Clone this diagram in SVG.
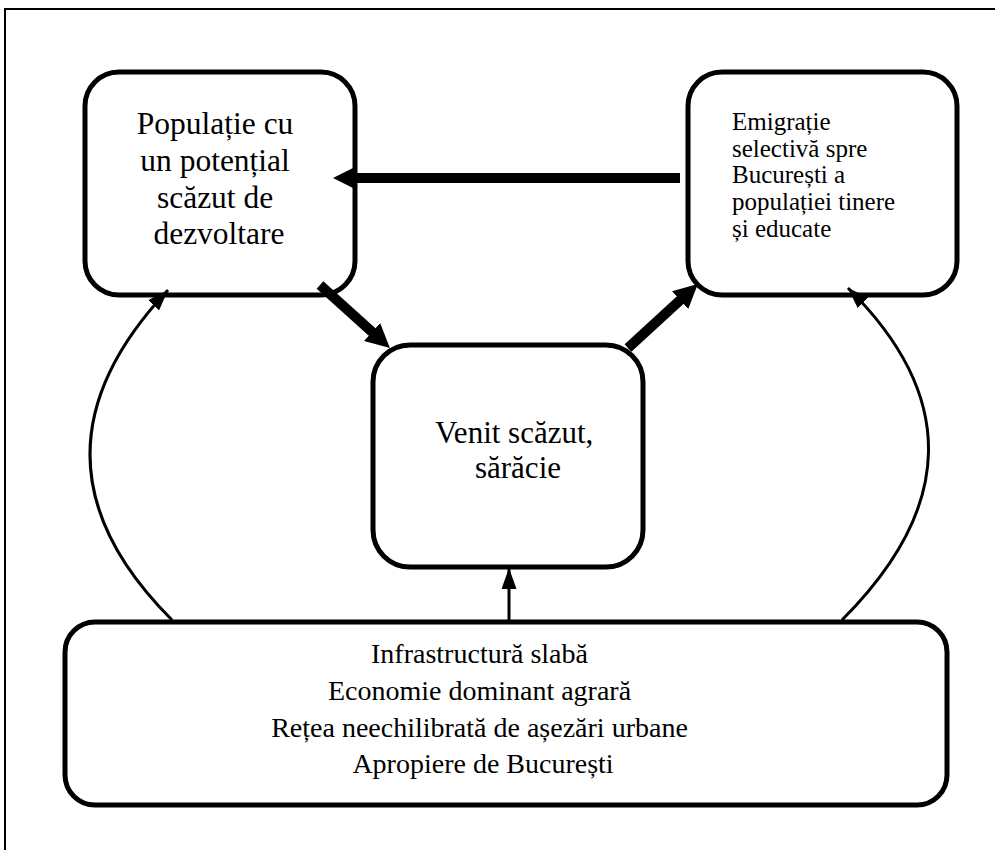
<svg xmlns="http://www.w3.org/2000/svg" width="1000" height="850" viewBox="0 0 1000 850">
<style>
.box{fill:#fff;stroke:#000;stroke-width:5}
.t{fill:#000}
.thick{fill:none;stroke:#000;stroke-width:10}
.thin{fill:none;stroke:#000;stroke-width:3}
</style>
<defs>
<marker id="hThick" markerUnits="userSpaceOnUse" markerWidth="24" markerHeight="24" refX="12" refY="12" orient="auto" viewBox="0 0 24 24">
<path d="M0,0 L24,12 L0,24 z" fill="#000"/>
</marker>
<marker id="hThin" markerUnits="userSpaceOnUse" markerWidth="21" markerHeight="15" refX="21" refY="7.5" orient="auto" viewBox="0 0 21 15">
<path d="M0,0 L21,7.5 L0,15 z" fill="#000"/>
</marker>
</defs>
<rect width="1000" height="850" fill="#fff"/>
<path d="M5,850 V9 H995" fill="none" stroke="#000" stroke-width="2"/>

<g id="n1">
<rect class="box" x="85" y="72" width="270" height="223" rx="34"/>
<text class="t" font-family="Liberation Serif, DejaVu Serif, serif" font-size="31.5" text-anchor="middle">
<tspan x="219" y="134">Populație cu</tspan>
<tspan x="219" y="171">un potențial</tspan>
<tspan x="219" y="208">scăzut de</tspan>
<tspan x="219" y="244">dezvoltare</tspan>
</text>
</g>

<g id="n2">
<rect class="box" x="688" y="72" width="269" height="223" rx="34"/>
<text class="t" font-family="Liberation Serif, DejaVu Serif, serif" font-size="25">
<tspan x="732" y="130">Emigrație</tspan>
<tspan x="732" y="157">selectivă spre</tspan>
<tspan x="732" y="183">București a</tspan>
<tspan x="732" y="210">populației tinere</tspan>
<tspan x="732" y="237">și educate</tspan>
</text>
</g>

<g id="n3">
<rect class="box" x="373" y="345" width="270" height="222" rx="37"/>
<text class="t" font-family="Liberation Serif, DejaVu Serif, serif" font-size="31" text-anchor="middle">
<tspan x="518" y="443">Venit scăzut,</tspan>
<tspan x="518" y="478">sărăcie</tspan>
</text>
</g>

<g id="n4">
<rect class="box" x="65" y="622" width="882" height="183" rx="30"/>
<text class="t" font-family="Liberation Serif, DejaVu Serif, serif" font-size="28" text-anchor="middle">
<tspan x="483" y="663">Infrastructură slabă</tspan>
<tspan x="483" y="700">Economie dominant agrară</tspan>
<tspan x="483" y="737">Rețea neechilibrată de așezări urbane</tspan>
<tspan x="483" y="773">Apropiere de București</tspan>
</text>
</g>

<g id="connectors">
<line class="thick" x1="680" y1="178" x2="345" y2="178" marker-end="url(#hThick)"/>
<line class="thick" x1="320" y1="285" x2="381" y2="340" marker-end="url(#hThick)"/>
<line class="thick" x1="628" y1="348" x2="689" y2="292" marker-end="url(#hThick)"/>
<line class="thin" x1="509" y1="620" x2="509" y2="568" marker-end="url(#hThin)"/>
<path class="thin" d="M172,620 Q10,458 168,290" marker-end="url(#hThin)"/>
<path class="thin" d="M842,620 Q1012,450 848,288" marker-end="url(#hThin)"/>
</g>
</svg>
